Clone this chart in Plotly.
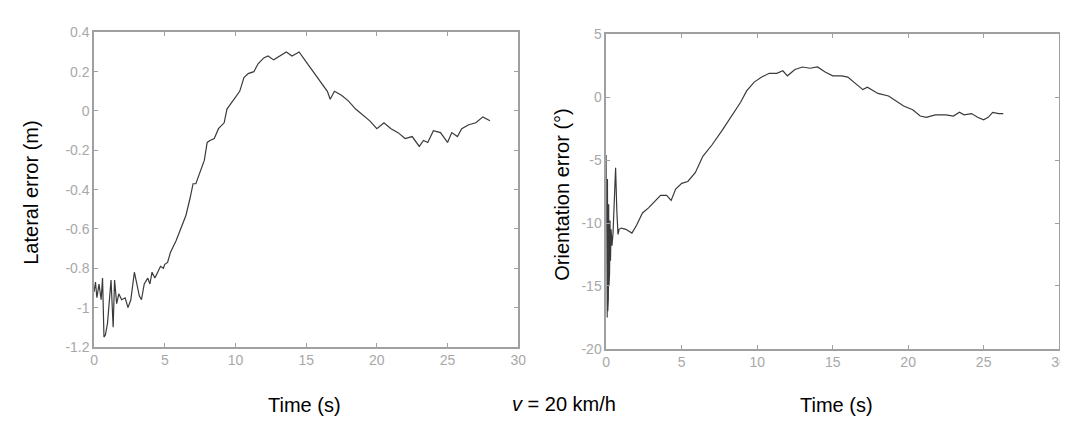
import plotly.graph_objects as go

# Lateral error (left panel)
lat_t = [0.0, 0.1, 0.2, 0.35, 0.5, 0.6, 0.7, 0.8, 0.95, 1.05, 1.2, 1.35, 1.45, 1.6, 1.75, 1.95,
         2.2, 2.4, 2.6, 2.85, 3.0, 3.2, 3.35, 3.55, 3.8, 3.95, 4.1, 4.3, 4.5, 4.7, 4.9, 5.0,
         5.2, 5.4, 5.8, 6.2, 6.5, 6.8, 7.0, 7.2, 7.5, 7.8, 8.0, 8.2, 8.5, 8.8, 9.2, 9.4,
         9.7, 10.0, 10.3, 10.6, 10.9, 11.3, 11.6, 12.0, 12.3, 12.7, 13.2, 13.6, 14.0, 14.5,
         15.0, 15.5, 16.0, 16.5, 16.7, 17.0, 17.5, 18.0, 18.5, 19.0, 19.5, 20.0, 20.5, 21.0,
         21.5, 22.0, 22.5, 23.0, 23.3, 23.6, 24.0, 24.5, 25.0, 25.3, 25.7, 26.0, 26.5, 27.0,
         27.5, 28.0]
lat_e = [-0.92, -0.87, -0.95, -0.88, -0.96, -0.85, -1.15, -1.14, -1.08, -0.97, -0.86, -1.1, -0.86,
         -0.98, -0.93, -0.96, -0.95, -1.0, -0.96, -0.82, -0.88, -0.94, -0.96, -0.88, -0.85, -0.88,
         -0.82, -0.85, -0.82, -0.79, -0.8, -0.78, -0.77, -0.72, -0.66, -0.59, -0.53, -0.44, -0.37,
         -0.37, -0.31, -0.25, -0.16, -0.15, -0.14, -0.09, -0.06, 0.01, 0.04, 0.07, 0.1, 0.17,
         0.19, 0.2, 0.24, 0.27, 0.28, 0.26, 0.28, 0.3, 0.28, 0.3, 0.25, 0.2, 0.15, 0.1, 0.06,
         0.1, 0.08, 0.05, 0.01, -0.02, -0.05, -0.09, -0.06, -0.09, -0.11, -0.14, -0.13, -0.18,
         -0.15, -0.16, -0.1, -0.11, -0.16, -0.11, -0.13, -0.09, -0.07, -0.06, -0.03, -0.05]

# Orientation error (right panel)
ori_t = [0.0, 0.02, 0.04, 0.06, 0.08, 0.1, 0.12, 0.14, 0.16, 0.18, 0.2, 0.22, 0.25, 0.28, 0.32,
         0.38, 0.45, 0.55, 0.62, 0.7, 0.78, 0.85, 1.0, 1.3, 1.7, 2.0, 2.4, 2.8, 3.2, 3.6, 4.0,
         4.3, 4.6, 5.0, 5.4, 5.9, 6.4, 7.0, 7.7, 8.3, 8.9, 9.3, 9.8, 10.3, 10.8, 11.3, 11.7,
         12.0, 12.5, 13.0, 13.5, 14.0, 14.5, 15.0, 15.6, 16.0, 16.5, 17.0, 17.3, 18.0, 18.7,
         19.2, 19.7, 20.3, 20.8, 21.2, 21.8, 22.5, 23.0, 23.4, 23.7, 24.2, 24.6, 25.0, 25.3,
         25.6, 26.0, 26.3]
ori_e = [-4.6, -16.5, -5.5, -17.5, -6.5, -17.0, -7.5, -16.0, -8.5, -15.0, -9.0, -14.0, -9.8,
         -13.0, -10.5, -11.8, -10.8, -8.0, -5.6, -9.0, -10.9, -10.5, -10.4, -10.5, -10.8, -10.2,
         -9.2, -8.8, -8.3, -7.8, -7.8, -8.2, -7.3, -6.85, -6.7, -6.0, -4.7, -3.8, -2.6, -1.5,
         -0.4, 0.5, 1.2, 1.6, 1.9, 1.9, 2.1, 1.7, 2.2, 2.4, 2.3, 2.4, 2.0, 1.7, 1.7, 1.6, 1.1,
         0.6, 0.8, 0.3, 0.1, -0.3, -0.7, -1.0, -1.5, -1.6, -1.4, -1.4, -1.5, -1.2, -1.4, -1.3,
         -1.6, -1.8, -1.6, -1.2, -1.3, -1.3]

x_ticks = [0, 5, 10, 15, 20, 25, 30]
lat_ticks = [0.4, 0.2, 0, -0.2, -0.4, -0.6, -0.8, -1, -1.2]
lat_ticktext = ["0.4", "0.2", "0", "-0.2", "-0.4", "-0.6", "-0.8", "-1", "-1.2"]
ori_ticks = [5, 0, -5, -10, -15, -20]
ori_ticktext = ["5", "0", "-5", "-10", "-15", "-20"]

W, H = 1068, 421

fig = go.Figure()
fig.add_trace(go.Scatter(x=lat_t, y=lat_e, mode="lines", line=dict(color="#3a3a3a", width=1.2),
                         xaxis="x", yaxis="y", showlegend=False))
fig.add_trace(go.Scatter(x=ori_t, y=ori_e, mode="lines", line=dict(color="#3a3a3a", width=1.2),
                         xaxis="x2", yaxis="y2", showlegend=False))

axis_common = dict(showline=True, linecolor="#a0a0a0", linewidth=1.5, mirror="allticks",
                   ticks="inside", ticklen=4, tickcolor="#a0a0a0", showgrid=False, zeroline=False,
                   tickfont=dict(family="Liberation Sans", size=14, color="#a8a8a8"))

title_font = dict(family="Liberation Sans", size=20, color="black")

fig.update_layout(
    width=W, height=H,
    margin=dict(l=0, r=0, t=0, b=0),
    paper_bgcolor="white", plot_bgcolor="white",
    xaxis=dict(domain=[83 / W, 512 / W], range=[0, 30], tickvals=x_ticks, anchor="y", **axis_common),
    yaxis=dict(domain=[1 - 344 / H, 1 - 17 / H], range=[-1.2, 0.4], tickvals=lat_ticks,
               ticktext=lat_ticktext, anchor="x", **axis_common),
    xaxis2=dict(domain=[601 / W, 1059 / W], range=[0, 30], tickvals=x_ticks, anchor="y2", **axis_common),
    yaxis2=dict(domain=[1 - 346 / H, 1 - 19 / H], range=[-20, 5], tickvals=ori_ticks,
                ticktext=ori_ticktext, anchor="x2", **axis_common),
    annotations=[
        dict(text="Lateral error (m)", x=19 / W, y=1 - 184 / H, xref="paper", yref="paper",
             textangle=-90, showarrow=False, font=title_font, xanchor="center", yanchor="middle"),
        dict(text="Orientation error (°)", x=556 / W, y=1 - 185 / H, xref="paper", yref="paper",
             textangle=-90, showarrow=False, font=title_font, xanchor="center", yanchor="middle"),
        dict(text="Time (s)", x=296 / W, y=1 - 404 / H, xref="paper", yref="paper",
             showarrow=False, font=title_font, xanchor="center", yanchor="middle"),
        dict(text="<i>v</i> = 20 km/h", x=558 / W, y=1 - 403 / H, xref="paper", yref="paper",
             showarrow=False, font=title_font, xanchor="center", yanchor="middle"),
        dict(text="Time (s)", x=834 / W, y=1 - 404 / H, xref="paper", yref="paper",
             showarrow=False, font=title_font, xanchor="center", yanchor="middle"),
    ],
)

fig.write_html("out.html")
